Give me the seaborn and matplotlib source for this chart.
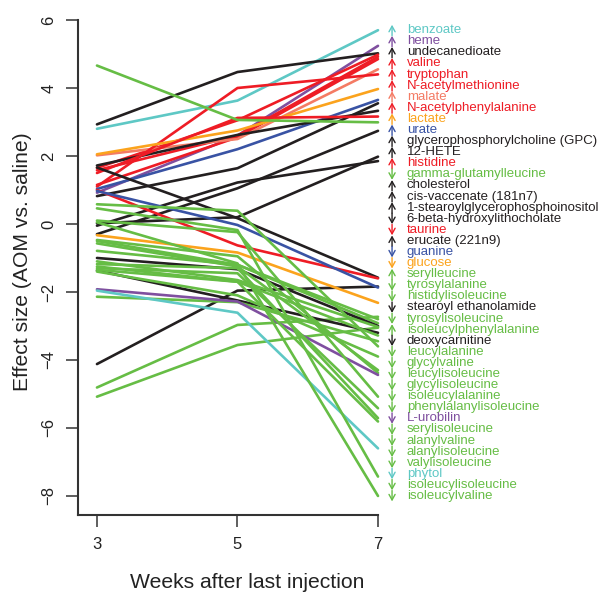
import numpy as np
import pandas as pd
import matplotlib
matplotlib.use("Agg")
import matplotlib.pyplot as plt
import seaborn as sns

# Effect size (AOM vs. saline) at weeks 3, 5 and 7 after last injection
weeks = [3, 5, 7]

names = [
    "benzoate", "heme", "undecanedioate", "valine", "tryptophan",
    "N-acetylmethionine", "malate", "N-acetylphenylalanine", "lactate", "urate",
    "glycerophosphorylcholine (GPC)", "12-HETE", "histidine", "gamma-glutamylleucine",
    "cholesterol", "cis-vaccenate (181n7)", "1-stearoylglycerophosphoinositol",
    "6-beta-hydroxylithocholate", "taurine", "erucate (221n9)", "guanine", "glucose",
    "serylleucine", "tyrosylalanine", "histidylisoleucine", "stearoyl ethanolamide",
    "tyrosylisoleucine", "isoleucylphenylalanine", "deoxycarnitine", "leucylalanine",
    "glycylvaline", "leucylisoleucine", "glycylisoleucine", "isoleucylalanine",
    "phenylalanylisoleucine", "L-urobilin", "serylisoleucine", "alanylvaline",
    "alanylisoleucine", "valylisoleucine", "phytol", "isoleucylisoleucine",
    "isoleucylvaline",
]

groups = [
    "cyan", "purple", "black", "red", "red",
    "red", "salmon", "red", "orange", "blue",
    "black", "black", "red", "green",
    "black", "black", "black",
    "black", "red", "black", "blue", "orange",
    "green", "green", "green", "black",
    "green", "green", "black", "green",
    "green", "green", "green", "green",
    "green", "purple", "green", "green",
    "green", "green", "cyan", "green",
    "green",
]

week3 = [
    2.80, 0.92, 2.93, 1.65, 1.58,
    1.15, 2.02, 1.10, 2.05, 1.03,
    0.82, 1.72, 1.50, 4.66,
    -0.30, 0.02, -0.05,
    1.66, 1.00, -4.12, 0.97, -0.33,
    -4.81, -0.50, -0.79, -1.00,
    -1.10, -5.08, -1.37, -1.25,
    -2.14, 0.58, -1.40, -0.57,
    -0.47, -1.92, 0.10, -1.30,
    -1.18, -1.35, -1.96, 0.46,
    0.05,
]

week5 = [
    3.63, 2.60, 4.47, 3.05, 2.60,
    2.55, 2.50, 4.00, 2.75, 2.20,
    1.64, 2.62, 3.12, 3.06,
    1.05, 0.20, 1.22,
    0.17, -0.63, -1.96, -0.03, -0.84,
    -2.97, -1.20, -1.20, -1.33,
    -1.65, -3.56, -2.25, -1.70,
    -2.30, 0.39, -2.10, -1.25,
    -0.95, -2.28, -0.24, -1.45,
    -1.30, -1.70, -2.61, -0.18,
    -1.16,
]

week7 = [
    5.70, 5.24, 5.02, 4.98, 4.92,
    4.85, 4.55, 4.40, 3.97, 3.65,
    3.55, 3.33, 3.16, 2.99,
    2.74, 1.98, 1.85,
    -1.58, -1.60, -1.84, -1.87, -2.32,
    -2.73, -2.80, -2.92, -3.00,
    -3.03, -3.05, -3.20, -3.28,
    -3.45, -3.60, -3.90, -4.30,
    -4.38, -4.44, -5.08, -5.42,
    -5.71, -5.81, -6.60, -7.43,
    -8.00,
]

group_colors = {
    "green": "#66bd45",
    "red": "#ee1c25",
    "salmon": "#f47b64",
    "orange": "#fba31d",
    "blue": "#3953a4",
    "purple": "#7f4f9f",
    "cyan": "#5ec8c5",
    "black": "#231f20",
}

palette = {n: group_colors[g] for n, g in zip(names, groups)}

df = pd.DataFrame({
    "metabolite": np.repeat(names, len(weeks)),
    "week": np.tile(weeks, len(names)),
    "effect": np.column_stack([week3, week5, week7]).ravel(),
})

sns.set_style("ticks")
plt.rcParams["font.family"] = ["Liberation Sans", "DejaVu Sans"]

fig = plt.figure(figsize=(6.06, 5.92), dpi=100)
ax = fig.add_axes([78 / 606, 77 / 592, 300 / 606, 495 / 592])

sns.lineplot(data=df, x="week", y="effect", hue="metabolite", palette=palette,
             estimator=None, legend=False, linewidth=1.9, ax=ax)
for line in ax.lines:
    line.set_clip_on(False)

ax.set_xlim(2.73, 7)
ax.set_ylim(-8.56, 6)
ax.set_xticks(weeks)
ax.set_yticks(range(-8, 7, 2))
ax.set_xlabel("")
ax.set_ylabel("")

sns.despine(ax=ax)
for side in ["left", "bottom"]:
    ax.spines[side].set_linewidth(1.5)
    ax.spines[side].set_color("#333333")
ax.tick_params(axis="both", length=8.5, width=1.1, color="#333333",
               labelsize=12, labelcolor="#222222", pad=7)
ax.tick_params(axis="y", labelrotation=90)
for lbl in ax.get_yticklabels():
    lbl.set_va("center")

# right-hand labels, evenly spread between the largest and smallest week-7 value
order = np.argsort(week7)[::-1]
label_y = np.linspace(max(week7), min(week7), len(names))
for y, i in zip(label_y, order):
    c = palette[names[i]]
    d = 0.16 if week7[i] > week3[i] else -0.16
    ax.annotate("", xy=(7.2, y + d), xytext=(7.2, y - d),
                arrowprops=dict(arrowstyle="->,head_length=0.4,head_width=0.22",
                                color=c, lw=1.0, shrinkA=0, shrinkB=0),
                annotation_clip=False)
    ax.text(7.41, y, names[i], color=c, fontsize=9.5, ha="left", va="center",
            clip_on=False)

fig.text(247.5 / 606, 1 - 582 / 592, "Weeks after last injection",
         fontsize=15.2, ha="center", va="center", color="#222222")
fig.text(23 / 606, 1 - 262 / 592, "Effect size (AOM vs. saline)",
         fontsize=15.2, ha="center", va="center", rotation=90, color="#222222")

fig.savefig("out.png", dpi=100)
plt.close(fig)
